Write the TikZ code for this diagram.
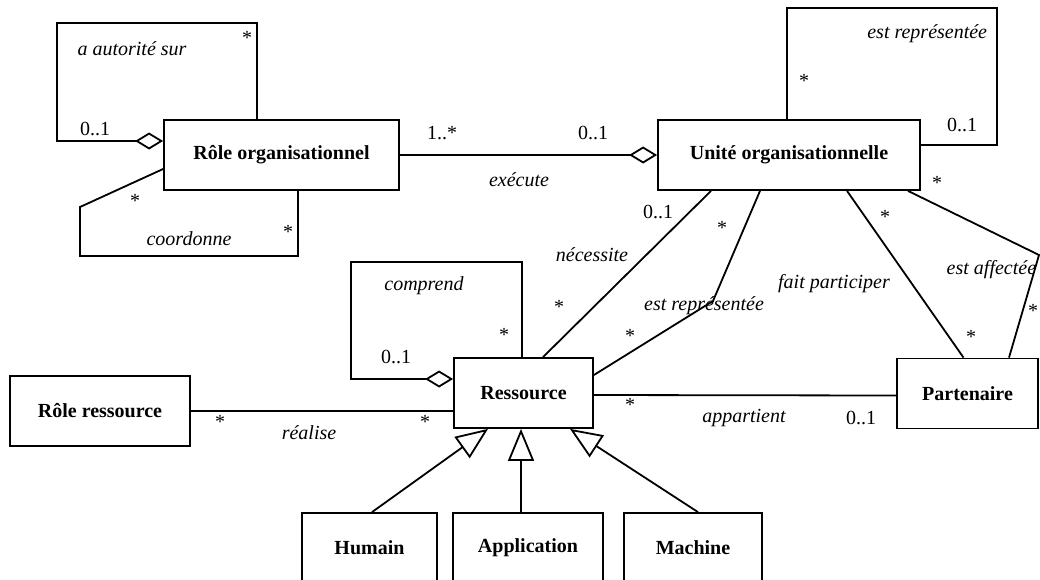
\documentclass[tikz,border=0pt]{standalone}
\usepackage{fontspec}
\setmainfont{Liberation Serif}
\usetikzlibrary{arrows.meta}
\begin{document}
\begin{tikzpicture}[x=1pt,y=-1pt,
  line width=1.8pt,
  cls/.style={draw,line width=1.8pt,inner sep=0pt,font=\fontsize{20}{24}\selectfont\bfseries,minimum height=70pt},
  lab/.style={inner sep=0pt,font=\fontsize{20}{24}\selectfont\itshape},
  mul/.style={inner sep=0pt,font=\fontsize{20}{24}\selectfont},
  assoc/.style={line width=1.8pt},
  agg/.style={assoc,-{Diamond[open,length=28pt,width=17pt,line width=1.8pt]}},
  gen/.style={assoc,-{Triangle[open,length=32pt,width=26pt,line width=1.8pt]}}]
\useasboundingbox (0,0) rectangle (1040,579);
\clip (0,0) rectangle (1040,579);

% classes
\node[cls,minimum width=235pt] (ro) at (281.5,155) {Rôle organisationnel};
\node[cls,minimum width=262pt] (uo) at (789,155) {Unité organisationnelle};
\node[cls,minimum width=180pt] (rr) at (100,411) {Rôle ressource};
\node[cls,minimum width=139pt] (res) at (523.5,393) {Ressource};
\node[cls,minimum width=141pt] (par) at (967.5,393.5) {Partenaire};
\node[cls,minimum width=135pt] (hum) at (369.5,548) {Humain};
\node[cls,minimum width=150pt] (app) at (528,548) {Application};
\node[cls,minimum width=138pt] (mac) at (693,548) {Machine};

% a autorité sur
\draw[agg] ([xshift=-24.5pt]ro.north) -- (257,23) -- (57,23) -- (57,141) -- ([yshift=14pt]ro.west);
% coordonne
\draw[assoc] ([yshift=-14pt]ro.west) -- (80,207) -- (80,256) -- (298,256) -- ([xshift=16.5pt]ro.south);
% exécute
\draw[agg] (ro.east) -- (uo.west);
% est représentée (self)
\draw[assoc] ([xshift=-2pt]uo.north) -- (787,8) -- (997,8) -- (997,145) -- ([yshift=10pt]uo.east);
% nécessite
\draw[assoc] ([xshift=-78pt]uo.south) -- ([xshift=19.5pt]res.north);
% est représentée
\draw[assoc] ([xshift=-29pt]uo.south) -- (713,301) -- ([yshift=18pt]res.east);
% fait participer
\draw[assoc] ([xshift=58pt]uo.south) -- ([xshift=-4pt]par.north);
% est affectée
\draw[assoc] ([xshift=119pt]uo.south) -- (1039,255) -- ([xshift=41.5pt]par.north);
% appartient
\draw[assoc] ([yshift=-2pt]res.east) -- ([yshift=-2pt]par.west);
% réalise
\draw[assoc] (rr.east) -- (res.west |- rr.east);
% comprend
\draw[agg] ([xshift=-1.5pt]res.north) -- (522,262) -- (351,262) -- (351,379) -- ([yshift=14pt]res.west);
% generalisations
\draw[gen] ([xshift=2.5pt]hum.north) -- ([xshift=-35.5pt]res.south);
\draw[gen] ([xshift=-7pt]app.north) -- ([xshift=-2.5pt]res.south);
\draw[gen] ([xshift=5pt]mac.north) -- ([xshift=46.5pt]res.south);

% labels
\node[lab] (l1) at (132,49) {a autorité sur};
\node[mul] (m1) at (247,38) {*};
\node[mul] (m2) at (95,129) {0..1};
\node[mul] (m3) at (135,201) {*};
\node[lab] (l2) at (189,239) {coordonne};
\node[mul] (m4) at (288,232) {*};
\node[mul] (m5) at (442,133) {1..*};
\node[mul] (m6) at (593,133) {0..1};
\node[lab] (l3) at (519,180) {exécute};
\node[lab,anchor=east] (l4) at (988,34) {est représentée};
\node[mul] (m7) at (804,81) {*};
\node[mul] (m8) at (962,125) {0..1};
\node[mul] (m9) at (937,183) {*};
\node[mul] (m10) at (658,212) {0..1};
\node[mul] (m11) at (722,228) {*};
\node[mul] (m12) at (885,217) {*};
\node[lab] (l5) at (592,255) {nécessite};
\node[lab,anchor=east] (l6) at (1037,270) {est affectée};
\node[lab] (l7) at (834,284) {fait participer};
\node[lab] (l8) at (704,306) {est représentée};
\node[mul] (m13) at (559,307) {*};
\node[mul] (m14) at (630,336) {*};
\node[mul] (m15) at (971,337) {*};
\node[mul] (m16) at (1033,311) {*};
\node[lab] (l9) at (424,286) {comprend};
\node[mul] (m17) at (504,335) {*};
\node[mul] (m18) at (396,357) {0..1};
\node[mul] (m19) at (220,422) {*};
\node[mul] (m20) at (425,422) {*};
\node[lab] (l10) at (309,433) {réalise};
\node[mul] (m21) at (630,405) {*};
\node[lab] (l11) at (744,418) {appartient};
\node[mul] (m22) at (861,418) {0..1};
\end{tikzpicture}
\end{document}
